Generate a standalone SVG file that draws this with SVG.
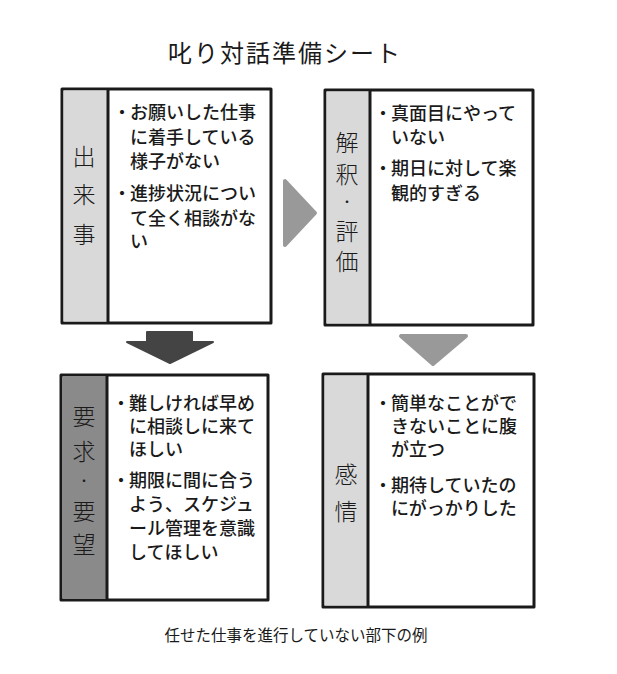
<svg xmlns="http://www.w3.org/2000/svg" width="617" height="674" viewBox="0 0 617 674">
<style>
.frame{fill:#fff;stroke:#1a1a1a;stroke-width:3;stroke-linejoin:round}
.side{stroke:#1a1a1a;stroke-width:3}
.light{fill:#d9d9d9}
.dark{fill:#8a8a8a}
.body{font-family:"Noto Sans CJK JP","Noto Sans",sans-serif;font-size:18px;font-weight:500;fill:#1a1a1a}
.label{font-family:"Noto Sans CJK JP","Noto Sans",sans-serif;font-size:23px;font-weight:300;fill:#1a1a1a;text-anchor:middle}
.dot{font-family:"Noto Sans CJK JP","Noto Sans",sans-serif;font-size:12px;fill:#1a1a1a;text-anchor:middle}
.title{font-family:"Noto Sans CJK JP","Noto Sans",sans-serif;font-size:24px;font-weight:400;fill:#1a1a1a;letter-spacing:2px}
.caption{font-family:"Noto Sans CJK JP","Noto Sans",sans-serif;font-size:15.5px;fill:#1a1a1a;text-anchor:middle}
</style>
<rect width="617" height="674" fill="#fff"/>
<text class="title" x="168" y="62">叱り対話準備シート</text>

<g id="connectors">
  <polygon points="285,181 315,213 285,245" fill="#999" stroke="#999" stroke-width="4" stroke-linejoin="round"/>
  <polygon points="147,332 192,332 192,342 213,342 170,363 127,342 147,342" fill="#444" stroke="#444" stroke-width="2" stroke-linejoin="round"/>
  <polygon points="401,336 466,336 433,364" fill="#999" stroke="#999" stroke-width="4" stroke-linejoin="round"/>
</g>

<g id="node-event">
  <rect class="frame" x="62" y="89" width="209" height="234"/>
  <rect class="light" x="63.5" y="90.5" width="44.5" height="231"/>
  <line class="side" x1="108" y1="89" x2="108" y2="323"/>
  <text class="label" x="84" y="165">出</text>
  <text class="label" x="84" y="203">来</text>
  <text class="label" x="84" y="243">事</text>
  <text class="body" x="113" y="119">・<tspan x="130">お願いした仕事</tspan></text>
  <text class="body" x="130" y="144">に着手している</text>
  <text class="body" x="130" y="168">様子がない</text>
  <text class="body" x="113" y="200">・<tspan x="130">進捗状況につい</tspan></text>
  <text class="body" x="130" y="225">て全く相談がな</text>
  <text class="body" x="130" y="248">い</text>
</g>

<g id="node-interpretation">
  <rect class="frame" x="325" y="90" width="208" height="235"/>
  <rect class="light" x="326.5" y="91.5" width="43.5" height="232"/>
  <line class="side" x1="370" y1="90" x2="370" y2="325"/>
  <text class="label" x="347" y="151">解</text>
  <text class="label" x="347" y="183">釈</text>
  <text class="dot" x="347" y="207">・</text>
  <text class="label" x="347" y="240">評</text>
  <text class="label" x="347" y="270">価</text>
  <text class="body" x="374" y="120">・<tspan x="391">真面目にやって</tspan></text>
  <text class="body" x="391" y="144">いない</text>
  <text class="body" x="374" y="175">・<tspan x="391">期日に対して楽</tspan></text>
  <text class="body" x="391" y="200">観的すぎる</text>
</g>

<g id="node-request">
  <rect class="frame" x="61" y="375" width="207" height="225"/>
  <rect class="dark" x="62.5" y="376.5" width="44.5" height="222"/>
  <line class="side" x1="107" y1="375" x2="107" y2="600"/>
  <text class="label" x="84" y="425">要</text>
  <text class="label" x="84" y="460">求</text>
  <text class="dot" x="84" y="486">・</text>
  <text class="label" x="84" y="520">要</text>
  <text class="label" x="84" y="553">望</text>
  <text class="body" x="112" y="410">・<tspan x="129">難しければ早め</tspan></text>
  <text class="body" x="129" y="433">に相談しに来て</text>
  <text class="body" x="129" y="456">ほしい</text>
  <text class="body" x="112" y="487">・<tspan x="129">期限に間に合う</tspan></text>
  <text class="body" x="129" y="511">よう、スケジュ</text>
  <text class="body" x="129" y="535">ール管理を意識</text>
  <text class="body" x="129" y="559">してほしい</text>
</g>

<g id="node-emotion">
  <rect class="frame" x="323" y="374" width="211" height="233"/>
  <rect class="light" x="324.5" y="375.5" width="43.5" height="230"/>
  <line class="side" x1="368" y1="374" x2="368" y2="607"/>
  <text class="label" x="346" y="483">感</text>
  <text class="label" x="346" y="520">情</text>
  <text class="body" x="374" y="410">・<tspan x="391">簡単なことがで</tspan></text>
  <text class="body" x="391" y="433">きないことに腹</text>
  <text class="body" x="391" y="456">が立つ</text>
  <text class="body" x="374" y="492">・<tspan x="391">期待していたの</tspan></text>
  <text class="body" x="391" y="515">にがっかりした</text>
</g>

<text class="caption" x="296" y="641">任せた仕事を進行していない部下の例</text>
</svg>
